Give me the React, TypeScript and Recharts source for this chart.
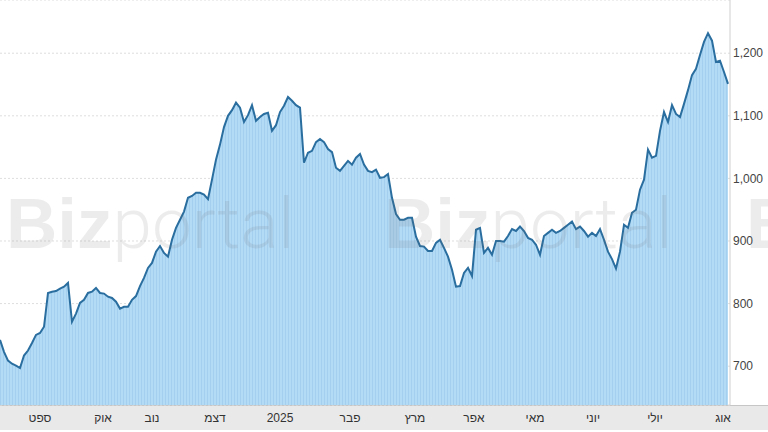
import { Area, AreaChart, CartesianGrid, XAxis, YAxis } from "recharts";

// closing price, one sample every ~1.3 trading days, Aug 2024 -> Aug 2025
const prices = [
  742, 723, 709, 704, 701, 697, 717, 725, 737, 750, 753, 763, 817, 819, 820, 824,
  827, 833, 771, 784, 801, 806, 817, 819, 825, 817, 816, 811, 809, 803, 792, 795,
  795, 806, 812, 828, 841, 857, 865, 883, 892, 881, 875, 902, 921, 934, 947, 969,
  972, 977, 977, 974, 967, 998, 1030, 1054, 1082, 1100, 1109, 1121, 1113, 1090, 1101, 1117,
  1092, 1098, 1103, 1105, 1076, 1085, 1106, 1116, 1130, 1124, 1117, 1113, 1025, 1041, 1044, 1058,
  1063, 1058, 1047, 1042, 1017, 1012, 1020, 1028, 1022, 1033, 1039, 1022, 1012, 1010, 1014, 1001,
  1002, 1007, 969, 943, 934, 934, 937, 937, 907, 892, 891, 884, 884, 897, 902, 889,
  875, 854, 827, 828, 849, 857, 844, 918, 921, 881, 889, 878, 900, 900, 899, 908,
  919, 916, 923, 916, 905, 902, 894, 878, 908, 913, 918, 913, 916, 921, 926, 931,
  919, 923, 916, 907, 913, 908, 919, 902, 883, 871, 856, 883, 926, 921, 945, 950,
  982, 998, 1046, 1033, 1036, 1076, 1106, 1090, 1117, 1103, 1098, 1119, 1141, 1165, 1175, 1197,
  1218, 1232, 1220, 1186, 1188, 1170, 1151,
];

// month starts, in sample index units
const monthTicks = [10, 25.75, 38, 53.75, 70, 87.5, 103.75, 118.5, 133.75, 148.25, 163.75, 180.75];
const monthLabels = ["ספט", "אוק", "נוב", "דצמ", "2025", "פבר", "מרץ", "אפר", "מאי", "יוני", "יולי", "אוג"];
const priceTicks = [700, 800, 900, 1000, 1100, 1200];

const LINE = "#2a6e9f";
const FONT = "'Liberation Sans', Arial, sans-serif";

const data = prices.map((price, i) => ({ i, price }));

function Watermark({ x }: { x: number }) {
  return (
    <text x={x} y={248} fontSize={71} fill="rgba(110,110,110,0.13)">
      <tspan fontFamily={FONT} fontWeight={700}>Biz</tspan>
      <tspan fontFamily="Roboto, sans-serif" fontWeight={300}>portal</tspan>
    </text>
  );
}

export default function App() {
  return (
    <div style={{ position: "relative", width: 768, height: 432, background: "#fff" }}>
      <style>{"body{margin:0}"}</style>
      <div
        style={{
          position: "absolute",
          left: 0,
          top: 405,
          width: 768,
          height: 25,
          background: "#e9e9e9",
          borderTop: "1px solid #c6c6c6",
          boxSizing: "border-box",
        }}
      />
      <div style={{ position: "absolute", left: 0, top: 0 }}>
        <AreaChart width={768} height={432} data={data} margin={{ top: 0, right: 0, bottom: 0, left: 0 }}>
          <defs>
            <pattern id="biz-stripes" width="3" height="4" patternUnits="userSpaceOnUse">
              <rect width="3" height="4" fill="#b3dbf6" />
              <rect width="1" height="4" fill="#a4cfee" />
            </pattern>
          </defs>
          <CartesianGrid vertical={false} stroke="#dedede" strokeDasharray="2 2" />
          <XAxis
            dataKey="i"
            type="number"
            domain={[0, 182.5]}
            ticks={monthTicks}
            tickFormatter={(v: number) => monthLabels[monthTicks.indexOf(v)] ?? ""}
            height={27}
            axisLine={false}
            tickLine={false}
            tick={{ fill: "#333", fontSize: 12, fontFamily: FONT }}
            interval={0}
          />
          <YAxis
            orientation="right"
            width={38}
            domain={[638, 1285]}
            ticks={priceTicks}
            allowDataOverflow
            tickFormatter={(v: number) => v.toLocaleString("en-US")}
            axisLine={{ stroke: "#cfcfcf" }}
            tickLine={false}
            tickSize={0}
            tickMargin={3}
            tick={{ fill: "#444", fontSize: 12, fontFamily: FONT }}
          />
          <Area
            type="linear"
            dataKey="price"
            stroke={LINE}
            strokeWidth={2}
            fill="url(#biz-stripes)"
            fillOpacity={1}
            dot={false}
            activeDot={false}
            isAnimationActive={false}
          />
        </AreaChart>
      </div>
      <svg
        width={768}
        height={432}
        style={{ position: "absolute", left: 0, top: 0, pointerEvents: "none" }}
      >
        <Watermark x={6} />
        <Watermark x={384} />
        <Watermark x={746} />
      </svg>
    </div>
  );
}
